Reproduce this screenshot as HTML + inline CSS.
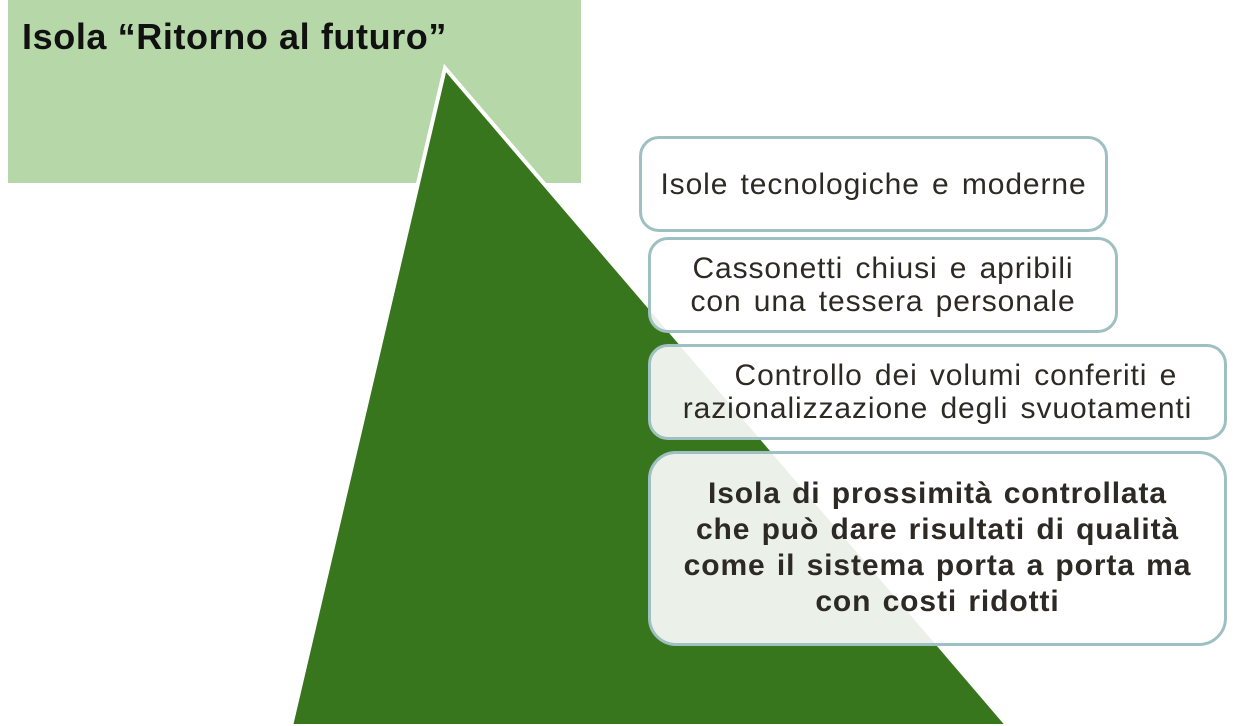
<!DOCTYPE html>
<html><head><meta charset="utf-8"><style>
body{margin:0;width:1250px;height:726px;overflow:hidden;background:#fff;position:relative;font-family:"Liberation Sans",sans-serif;color:#2d2a25}
.g{position:absolute;left:8px;top:0;width:573px;height:183px;background:#b6d7a8}
.t{position:absolute;left:22px;top:16px;font-size:36px;font-weight:bold;color:#111;white-space:nowrap;letter-spacing:0.6px}
svg{position:absolute;left:0;top:0}
.b{position:absolute;box-sizing:border-box;border:3px solid #9fc0c2;border-radius:20px;background:rgba(255,255,255,0.9);display:flex;align-items:center;justify-content:center;text-align:center;font-size:30px;line-height:33px;white-space:nowrap;letter-spacing:0.9px;word-spacing:3px}
</style></head><body>
<div class="g"></div>
<div class="t">Isola “Ritorno al futuro”</div>
<svg width="1250" height="726"><polygon points="445,68 291,726 1008,726" fill="#38761d" stroke="#fff" stroke-width="4"/></svg>
<div class="b" style="left:639px;top:136px;width:469px;height:96px">Isole tecnologiche e moderne</div>
<div class="b" style="left:648px;top:237px;width:470px;height:96px">Cassonetti chiusi e apribili<br>con una tessera personale</div>
<div class="b" style="left:648px;top:344px;width:579px;height:96px">&nbsp;&nbsp;&nbsp;Controllo dei volumi conferiti e<br>razionalizzazione degli svuotamenti</div>
<div class="b" style="left:648px;top:451px;width:579px;height:195px;border-radius:28px;font-weight:bold;font-size:30px;line-height:36px;padding-bottom:2px;letter-spacing:0.9px;word-spacing:2px">Isola di prossimità controllata<br>che può dare risultati di qualità<br>come il sistema porta a porta ma<br>con costi ridotti</div>
</body></html>
